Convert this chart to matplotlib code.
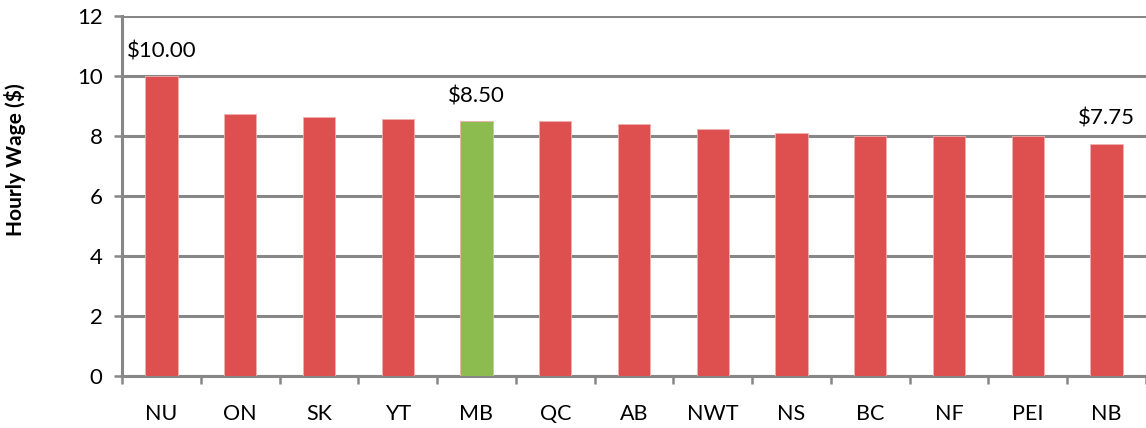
import numpy as np
import matplotlib.pyplot as plt

# Minimum wage by province / territory
provinces = ['NU', 'ON', 'SK', 'YT', 'MB', 'QC', 'AB', 'NWT', 'NS', 'BC', 'NF', 'PEI', 'NB']
wages = [10.00, 8.75, 8.65, 8.58, 8.50, 8.50, 8.40, 8.25, 8.10, 8.00, 8.00, 8.00, 7.75]
labelled = {'NU': '$10.00', 'MB': '$8.50', 'NB': '$7.75'}
highlight = 'MB'

red = '#DE5050'
green = '#8CBC50'
grey = '#878787'

plt.rcParams['font.family'] = ['Lato', 'DejaVu Sans']

fig = plt.figure(figsize=(11.46, 4.28), dpi=100)
ax = fig.add_axes([0.1065, 0.1215, 0.8935, 0.8411])

x = np.arange(len(provinces))
colors = [green if p == highlight else red for p in provinces]
ax.bar(x, wages, width=0.41, color=colors, edgecolor='#F0B0B0', linewidth=0.6, zorder=3)

for i, p in enumerate(provinces):
    if p in labelled:
        ax.text(i, wages[i] + 0.5, labelled[p], ha='center', va='bottom', fontsize=16, zorder=4)

ax.set_xlim(-0.5, len(provinces) - 0.5)
ax.set_ylim(0, 12)
ax.set_yticks(range(0, 13, 2))
ax.yaxis.grid(True, color=grey, linewidth=2.2, zorder=0)
ax.set_axisbelow(True)

ax.set_xticks(x)
ax.set_xticklabels(provinces, fontsize=15.5)
ax.set_xticks(np.arange(-0.5, len(provinces), 1), minor=True)
ax.tick_params(axis='x', which='major', length=0, pad=20)
ax.tick_params(axis='x', which='minor', length=6, width=1.8, color=grey, direction='out')
ax.tick_params(axis='y', length=6, width=1.8, color=grey, labelsize=16, pad=8)

for s in ['top', 'right']:
    ax.spines[s].set_visible(False)
for s in ['left', 'bottom']:
    ax.spines[s].set_color(grey)
    ax.spines[s].set_linewidth(2.2)

ax.set_ylabel('Hourly Wage ($)', fontsize=15, fontweight='bold')
ax.yaxis.set_label_coords(-0.094, 0.6)

fig.savefig('out.png', dpi=100)
